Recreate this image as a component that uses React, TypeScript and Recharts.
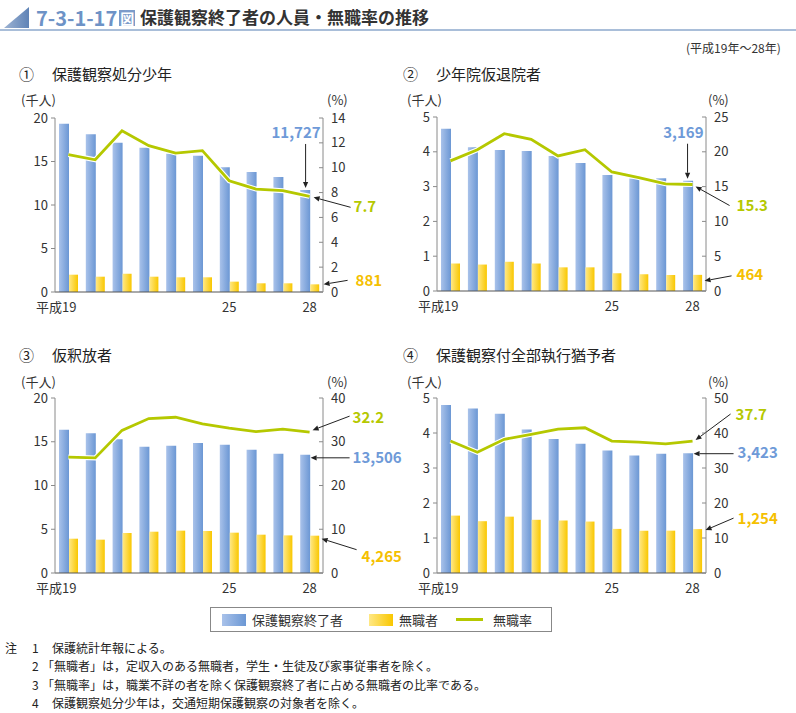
import React from "react";
import { ComposedChart, Bar, Line, XAxis, YAxis, ReferenceDot } from "recharts";

// 平成19年～28年
const years = ["19", "20", "21", "22", "23", "24", "25", "26", "27", "28"];

// ① 保護観察処分少年 (千人, %)
const p1Total = [19.35, 18.12, 17.16, 16.59, 15.9, 15.67, 14.33, 13.79, 13.22, 11.727];
const p1Jobless = [1.99, 1.76, 2.1, 1.76, 1.69, 1.69, 1.19, 1.0, 1.0, 0.881];
const p1Rate = [11.05, 10.64, 12.98, 11.77, 11.18, 11.37, 8.95, 8.28, 8.15, 7.7];

// ② 少年院仮退院者
const p2Total = [4.66, 4.13, 4.05, 4.02, 3.88, 3.68, 3.33, 3.23, 3.24, 3.169];
const p2Jobless = [0.79, 0.76, 0.84, 0.79, 0.68, 0.68, 0.51, 0.48, 0.46, 0.464];
const p2Rate = [18.7, 20.3, 22.6, 21.8, 19.4, 20.3, 17.1, 16.3, 15.4, 15.3];

// ③ 仮釈放者
const p3Total = [16.38, 15.96, 15.28, 14.44, 14.55, 14.86, 14.67, 14.1, 13.64, 13.506];
const p3Jobless = [3.92, 3.81, 4.57, 4.72, 4.84, 4.8, 4.61, 4.38, 4.3, 4.265];
const p3Rate = [26.5, 26.3, 32.6, 35.3, 35.6, 34.1, 33.1, 32.3, 32.9, 32.2];

// ④ 保護観察付全部執行猶予者
const p4Total = [4.8, 4.7, 4.55, 4.1, 3.83, 3.69, 3.5, 3.36, 3.41, 3.423];
const p4Jobless = [1.64, 1.48, 1.61, 1.52, 1.5, 1.47, 1.26, 1.21, 1.21, 1.254];
const p4Rate = [37.7, 34.5, 38.2, 39.6, 41.1, 41.5, 37.7, 37.4, 36.9, 37.7];

const xTickYears = ["19", "25", "28"];

const notes = [
  ["注", "1", "保護統計年報による。"],
  ["", "2", "「無職者」は，定収入のある無職者，学生・生徒及び家事従事者を除く。"],
  ["", "3", "「無職率」は，職業不詳の者を除く保護観察終了者に占める無職者の比率である。"],
  ["", "4", "保護観察処分少年は，交通短期保護観察の対象者を除く。"],
];

const FONT = '"Noto Sans CJK JP", "Noto Sans", sans-serif';
const BLUE_TXT = "#6e9ad8";
const YELLOW_TXT = "#f5c000";
const GREEN = "#b5c800";
const AXIS = "#8a8a8a";

const buildRows = (total: number[], jobless: number[], rate: number[]) =>
  years.map((y, i) => ({ year: y, total: total[i], jobless: jobless[i], rate: rate[i] }));

const fmtThousand = (v: number) => Math.round(v * 1000).toLocaleString("en-US");

type Callout = {
  key: "total" | "jobless" | "rate";
  color: string;
  tx: number;
  ty: number;
  anchor?: "start" | "end";
  line: [number, number, number, number];
};

const Arrow = ({ x1, y1, x2, y2 }: { x1: number; y1: number; x2: number; y2: number }) => {
  const a = Math.atan2(y2 - y1, x2 - x1);
  const len = 6;
  const w = 2.6;
  const bx = x2 - len * Math.cos(a);
  const by = y2 - len * Math.sin(a);
  const pts = [
    [x2, y2],
    [bx + w * Math.sin(a), by - w * Math.cos(a)],
    [bx - w * Math.sin(a), by + w * Math.cos(a)],
  ]
    .map((p) => p.join(","))
    .join(" ");
  return (
    <g>
      <line x1={x1} y1={y1} x2={bx} y2={by} stroke="#222" strokeWidth={1} />
      <polygon points={pts} fill="#222" />
    </g>
  );
};

const XTick = (props: any) => {
  const { x, y, payload } = props;
  if (!xTickYears.includes(payload.value)) return null;
  const first = payload.value === years[0];
  return (
    <text
      x={first ? x + 8 : x}
      y={y}
      dy="0.71em"
      textAnchor={first ? "end" : "middle"}
      fontSize={13}
      fill="#333"
      fontFamily={FONT}
    >
      {first ? "平成" + payload.value : payload.value}
    </text>
  );
};

const RightTick = (props: any) => {
  const { x, y, payload } = props;
  const axisX = x - 7;
  return (
    <g>
      <line x1={axisX - 4} y1={y} x2={axisX} y2={y} stroke={AXIS} />
      <text x={x + 1} y={y} dy="0.35em" textAnchor="start" fontSize={13} fill="#333" fontFamily={FONT}>
        {payload.value}
      </text>
    </g>
  );
};

type PanelProps = {
  left: number;
  top: number;
  width: number;
  ml: number;
  mr: number;
  plotHeight: number;
  rows: any[];
  leftMax: number;
  leftTicks: number[];
  rightMax: number;
  rightTicks: number[];
  callouts: Callout[];
};

const Panel = ({ left, top, width, ml, mr, plotHeight, rows, leftMax, leftTicks, rightMax, rightTicks, callouts }: PanelProps) => {
  const last = rows[rows.length - 1];
  return (
    <div style={{ position: "absolute", left, top }}>
      <ComposedChart
        width={width}
        height={20 + plotHeight + 30}
        data={rows}
        margin={{ top: 20, right: mr, left: ml, bottom: 0 }}
        barGap={0}
        style={{ overflow: "visible" }}
      >
        <defs>
          <linearGradient id="gBlue" x1="0" y1="0" x2="1" y2="0">
            <stop offset="0%" stopColor="#a9c2ea" />
            <stop offset="100%" stopColor="#6b97d4" />
          </linearGradient>
          <linearGradient id="gYellow" x1="0" y1="0" x2="1" y2="0">
            <stop offset="0%" stopColor="#ffe885" />
            <stop offset="100%" stopColor="#f9c700" />
          </linearGradient>
        </defs>
        <XAxis
          dataKey="year"
          interval={0}
          height={30}
          tick={<XTick />}
          tickLine={false}
          tickSize={0}
          tickMargin={11}
          axisLine={{ stroke: "#555" }}
        />
        <YAxis
          yAxisId="l"
          orientation="left"
          width={40}
          domain={[0, leftMax]}
          ticks={leftTicks}
          interval={0}
          tickSize={4}
          tickMargin={3}
          tick={{ fontSize: 13, fill: "#333", fontFamily: FONT }}
          axisLine={{ stroke: AXIS }}
          tickLine={{ stroke: AXIS }}
        />
        <YAxis
          yAxisId="r"
          orientation="right"
          width={40}
          domain={[0, rightMax]}
          ticks={rightTicks}
          interval={0}
          tickSize={4}
          tickMargin={3}
          tick={<RightTick />}
          axisLine={{ stroke: AXIS }}
          tickLine={false}
        />
        <Bar yAxisId="l" dataKey="total" fill="url(#gBlue)" barSize={10} isAnimationActive={false} />
        <Bar yAxisId="l" dataKey="jobless" fill="url(#gYellow)" barSize={9} isAnimationActive={false} />
        <Line yAxisId="r" dataKey="rate" stroke="#ffffff" strokeWidth={5} dot={false} isAnimationActive={false} />
        <Line yAxisId="r" dataKey="rate" stroke={GREEN} strokeWidth={2.8} dot={false} isAnimationActive={false} />
        {callouts.map((c) => (
          <ReferenceDot
            key={c.key}
            x={last.year}
            y={last[c.key]}
            yAxisId={c.key === "rate" ? "r" : "l"}
            r={0}
            ifOverflow="visible"
            shape={(p: any) => {
              const { cx, cy } = p;
              const label = c.key === "rate" ? last.rate.toFixed(1) : fmtThousand(last[c.key]);
              return (
                <g>
                  <Arrow x1={cx + c.line[0]} y1={cy + c.line[1]} x2={cx + c.line[2]} y2={cy + c.line[3]} />
                  <text
                    x={cx + c.tx}
                    y={cy + c.ty}
                    fill={c.color}
                    fontSize={15}
                    fontWeight={700}
                    fontFamily={FONT}
                    textAnchor={c.anchor || "start"}
                  >
                    {label}
                  </text>
                </g>
              );
            }}
          />
        ))}
      </ComposedChart>
    </div>
  );
};

const PanelTitle = ({ x, y, num, text }: { x: number; y: number; num: string; text: string }) => (
  <div style={{ position: "absolute", left: x, top: y, fontSize: 15, color: "#222", whiteSpace: "nowrap", fontFamily: FONT }}>
    <span style={{ display: "inline-block", width: 33 }}>{num}</span>
    {text}
  </div>
);

const Unit = ({ x, y, text }: { x: number; y: number; text: string }) => (
  <div style={{ position: "absolute", left: x, top: y, fontSize: 13, lineHeight: "14px", color: "#333", fontFamily: FONT, whiteSpace: "nowrap" }}>
    {text}
  </div>
);

export default function App() {
  return (
    <div style={{ position: "absolute", left: 0, top: 0, width: 796, height: 713, background: "#fff", fontFamily: FONT, overflow: "hidden" }}>
      {/* header */}
      <svg width={32} height={32} style={{ position: "absolute", left: 0, top: 0 }}>
        <defs>
          <linearGradient id="gTri" x1="0" y1="0" x2="1" y2="0">
            <stop offset="0%" stopColor="#9db3d3" />
            <stop offset="100%" stopColor="#5f83b6" />
          </linearGradient>
        </defs>
        <polygon points="4,28 29,7 29,28" fill="url(#gTri)" />
      </svg>
      <div style={{ position: "absolute", left: 0, top: 29, width: 796, height: 2, background: "#a9bed9" }} />
      <div style={{ position: "absolute", left: 36, top: 3, fontSize: 20, fontWeight: 700, color: "#6d92c6", whiteSpace: "nowrap" }}>
        7-3-1-17
        <span style={{ display: "inline-block", marginLeft: 2, background: "#7b9bca", color: "#fff", fontSize: 14, lineHeight: "16px", padding: "0 1px", verticalAlign: 2 }}>図</span>
      </div>
      <div style={{ position: "absolute", left: 140, top: 4, fontSize: 17, fontWeight: 700, color: "#333", whiteSpace: "nowrap" }}>
        保護観察終了者の人員・無職率の推移
      </div>
      <div style={{ position: "absolute", left: 686, top: 39, fontSize: 12, color: "#333", whiteSpace: "nowrap" }}>(平成19年～28年)</div>

      <PanelTitle x={19} y={63} num="①" text="保護観察処分少年" />
      <PanelTitle x={403} y={63} num="②" text="少年院仮退院者" />
      <PanelTitle x={19} y={344} num="③" text="仮釈放者" />
      <PanelTitle x={403} y={344} num="④" text="保護観察付全部執行猶予者" />

      <Unit x={21} y={93} text="(千人)" />
      <Unit x={327} y={93} text="(%)" />
      <Unit x={407} y={93} text="(千人)" />
      <Unit x={708} y={93} text="(%)" />
      <Unit x={21} y={375} text="(千人)" />
      <Unit x={327} y={375} text="(%)" />
      <Unit x={407} y={375} text="(千人)" />
      <Unit x={708} y={375} text="(%)" />

      <Panel
        left={0}
        top={98}
        width={410}
        ml={15}
        mr={47}
        plotHeight={174}
        rows={buildRows(p1Total, p1Jobless, p1Rate)}
        leftMax={20}
        leftTicks={[0, 5, 10, 15, 20]}
        rightMax={14}
        rightTicks={[0, 2, 4, 6, 8, 10, 12, 14]}
        callouts={[
          { key: "total", color: BLUE_TXT, tx: 11, ty: -52, anchor: "end", line: [-4, -46, -4, -2] },
          { key: "rate", color: GREEN, tx: 44, ty: 16, line: [41, 11, 4, 1] },
          { key: "jobless", color: YELLOW_TXT, tx: 46, ty: 2, line: [38, -4, 14, 0] },
        ]}
      />
      <Panel
        left={390}
        top={97}
        width={406}
        ml={7}
        mr={50}
        plotHeight={174}
        rows={buildRows(p2Total, p2Jobless, p2Rate)}
        leftMax={5}
        leftTicks={[0, 1, 2, 3, 4, 5]}
        rightMax={25}
        rightTicks={[0, 5, 10, 15, 20, 25]}
        callouts={[
          { key: "total", color: BLUE_TXT, tx: 11, ty: -43, anchor: "end", line: [-5, -37, -5, -2] },
          { key: "rate", color: GREEN, tx: 44, ty: 26, line: [37, 21, 3, 2] },
          { key: "jobless", color: YELLOW_TXT, tx: 44, ty: 5, line: [39, 1, 12, 6] },
        ]}
      />
      <Panel
        left={0}
        top={378}
        width={410}
        ml={15}
        mr={47}
        plotHeight={175}
        rows={buildRows(p3Total, p3Jobless, p3Rate)}
        leftMax={20}
        leftTicks={[0, 5, 10, 15, 20]}
        rightMax={40}
        rightTicks={[0, 10, 20, 30, 40]}
        callouts={[
          { key: "rate", color: GREEN, tx: 43, ty: -9, line: [40, -16, 3, -2] },
          { key: "total", color: BLUE_TXT, tx: 43, ty: 8, line: [40, 3, 1, 3] },
          { key: "jobless", color: YELLOW_TXT, tx: 52, ty: 26, line: [47, 14, 12, 3] },
        ]}
      />
      <Panel
        left={390}
        top={378}
        width={406}
        ml={7}
        mr={50}
        plotHeight={175}
        rows={buildRows(p4Total, p4Jobless, p4Rate)}
        leftMax={5}
        leftTicks={[0, 1, 2, 3, 4, 5]}
        rightMax={50}
        rightTicks={[0, 10, 20, 30, 40, 50]}
        callouts={[
          { key: "rate", color: GREEN, tx: 43, ty: -21, line: [38, -27, 3, -1] },
          { key: "total", color: BLUE_TXT, tx: 45, ty: 5, line: [41, 0.5, 1, 0.5] },
          { key: "jobless", color: YELLOW_TXT, tx: 45, ty: -5, line: [41, -11, 13, 1] },
        ]}
      />

      {/* legend */}
      <div
        style={{
          position: "absolute",
          left: 210,
          top: 607,
          width: 340,
          height: 23,
          border: "1px solid #888",
          display: "flex",
          alignItems: "center",
          fontSize: 13,
          color: "#333",
          whiteSpace: "nowrap",
        }}
      >
        <span style={{ display: "inline-block", marginLeft: 11, width: 24, height: 12, background: "linear-gradient(to right, #a9c2ea, #6b97d4)" }} />
        <span style={{ marginLeft: 6 }}>保護観察終了者</span>
        <span style={{ display: "inline-block", marginLeft: 26, width: 24, height: 12, background: "linear-gradient(to right, #ffe885, #f9c700)" }} />
        <span style={{ marginLeft: 6 }}>無職者</span>
        <span style={{ display: "inline-block", marginLeft: 18, width: 27, height: 2.5, background: GREEN }} />
        <span style={{ marginLeft: 10 }}>無職率</span>
      </div>

      {/* notes */}
      {notes.map((n, i) => (
        <div key={i} style={{ position: "absolute", left: 0, top: 639 + i * 18.3, fontSize: 12, color: "#222", whiteSpace: "nowrap" }}>
          <span style={{ position: "absolute", left: 5 }}>{n[0]}</span>
          <span style={{ position: "absolute", left: 32 }}>{n[1]}</span>
          <span style={{ position: "absolute", left: n[2].startsWith("「") ? 42 : 52 }}>{n[2]}</span>
        </div>
      ))}
    </div>
  );
}
